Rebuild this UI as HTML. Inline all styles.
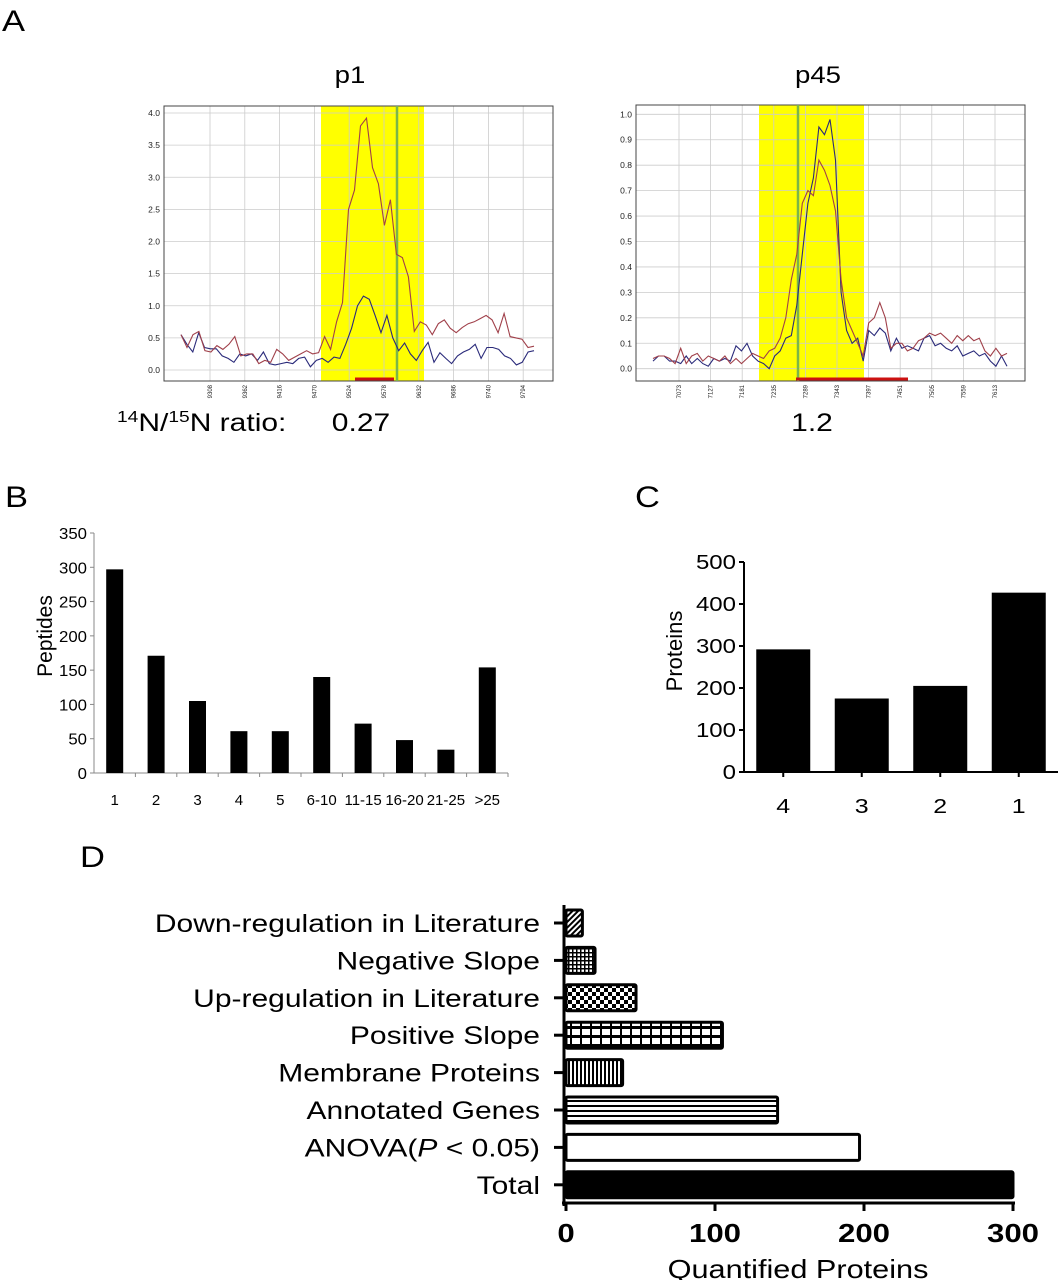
<!DOCTYPE html>
<html><head><meta charset="utf-8"><style>
body{margin:0;background:#fff;width:1064px;height:1280px;overflow:hidden}
svg{display:block;font-family:"Liberation Sans",Arial,sans-serif}
</style></head><body>
<svg id="fig" width="1064" height="1280" xmlns="http://www.w3.org/2000/svg">
<defs>
<pattern id="pDiag" width="4" height="4" patternUnits="userSpaceOnUse" patternTransform="rotate(45)"><rect width="4" height="4" fill="#fff"/><rect width="2" height="4" fill="#000"/></pattern>
<pattern id="pGrid" width="4" height="4" patternUnits="userSpaceOnUse"><rect width="4" height="4" fill="#fff"/><rect width="1.5" height="4" fill="#000"/><rect width="4" height="1.5" fill="#000"/></pattern>
<pattern id="pCheck" width="8" height="8" patternUnits="userSpaceOnUse"><rect width="8" height="8" fill="#fff"/><rect width="4" height="4" fill="#000"/><rect x="4" y="4" width="4" height="4" fill="#000"/></pattern>
<pattern id="pDash" width="10" height="9" patternUnits="userSpaceOnUse"><rect width="10" height="9" fill="#fff"/><rect width="10" height="3" fill="#000"/><rect width="2" height="9" fill="#000"/></pattern>
<pattern id="pVert" width="4" height="4" patternUnits="userSpaceOnUse"><rect width="4" height="4" fill="#fff"/><rect width="2" height="4" fill="#000"/></pattern>
<pattern id="pHoriz" width="4" height="5" patternUnits="userSpaceOnUse"><rect width="4" height="5" fill="#fff"/><rect width="4" height="2" fill="#000"/></pattern>
</defs>
<g id="gA"></g>
<g id="gB"></g>
<g id="gC"></g>
<g id="gD"></g>
</svg>
<script>
// ---- Panel A data ----
const p1Red=[0.55,0.35,0.55,0.6,0.3,0.28,0.38,0.32,0.4,0.52,0.22,0.25,0.25,0.1,0.15,0.12,0.32,0.25,0.15,0.2,0.25,0.3,0.25,0.27,0.52,0.32,0.75,1.05,2.5,2.8,3.8,3.92,3.15,2.9,2.25,2.65,1.8,1.75,1.45,0.6,0.75,0.7,0.55,0.72,0.78,0.65,0.58,0.66,0.72,0.75,0.8,0.85,0.78,0.58,0.88,0.52,0.5,0.48,0.35,0.37];
const p1Blue=[0.55,0.4,0.28,0.58,0.35,0.33,0.33,0.22,0.18,0.12,0.25,0.22,0.25,0.15,0.28,0.1,0.08,0.1,0.12,0.1,0.18,0.2,0.05,0.15,0.18,0.12,0.2,0.18,0.4,0.65,1.0,1.15,1.1,0.85,0.58,0.85,0.5,0.3,0.42,0.25,0.15,0.3,0.43,0.12,0.27,0.18,0.1,0.22,0.28,0.32,0.4,0.18,0.35,0.35,0.32,0.22,0.18,0.08,0.12,0.28,0.3];
const p1YTicks=[0,0.5,1.0,1.5,2.0,2.5,3.0,3.5,4.0];
const p1XTicks=["9308","9362","9416","9470","9524","9578","9632","9686","9740","9794"];
const p45Red=[0.04,0.05,0.05,0.04,0.02,0.08,0.02,0.05,0.06,0.03,0.05,0.04,0.03,0.05,0.02,0.04,0.02,0.04,0.06,0.05,0.04,0.07,0.08,0.12,0.2,0.35,0.45,0.65,0.7,0.68,0.82,0.78,0.72,0.62,0.35,0.2,0.15,0.1,0.05,0.18,0.2,0.26,0.2,0.08,0.1,0.1,0.07,0.08,0.11,0.12,0.14,0.13,0.14,0.12,0.1,0.13,0.11,0.13,0.11,0.12,0.07,0.05,0.08,0.05,0.06];
const p45Blue=[0.03,0.05,0.05,0.03,0.03,0.02,0.05,0.02,0.04,0.02,0.01,0.04,0.03,0.04,0.03,0.09,0.07,0.1,0.05,0.03,0.02,0.0,0.05,0.07,0.12,0.13,0.25,0.45,0.65,0.75,0.95,0.92,0.98,0.82,0.3,0.15,0.1,0.12,0.03,0.15,0.13,0.16,0.14,0.07,0.12,0.08,0.09,0.08,0.07,0.12,0.13,0.09,0.1,0.08,0.07,0.09,0.05,0.06,0.07,0.05,0.06,0.03,0.01,0.05,0.01];
const p45YTicks=[0,0.1,0.2,0.3,0.4,0.5,0.6,0.7,0.8,0.9,1.0];
const p45XTicks=["7073","7127","7181","7235","7289","7343","7397","7451","7505","7559","7613"];
// ---- Panel B data ----
const bCats=["1","2","3","4","5","6-10","11-15","16-20","21-25",">25"];
const bVals=[297,171,105,61,61,140,72,48,34,154];
const bTicks=[0,50,100,150,200,250,300,350];
// ---- Panel C data ----
const cCats=["4","3","2","1"];
const cVals=[292,175,205,427];
const cTicks=[0,100,200,300,400,500];
// ---- Panel D data ----
const dCats=["Down-regulation in Literature","Negative Slope","Up-regulation in Literature","Positive Slope","Membrane Proteins","Annotated Genes","ANOVA(P < 0.05)","Total"];
const dVals=[11,19.5,47,105,38,142,197,300];
const dTicks=[0,100,200,300];
const dFills=["url(#pDiag)","url(#pGrid)","url(#pCheck)","url(#pDash)","url(#pVert)","url(#pHoriz)","#fff","#000"];

const NS="http://www.w3.org/2000/svg";
function mk(parent,tag,attrs,text){const e=document.createElementNS(NS,tag);for(const k in attrs)e.setAttribute(k,attrs[k]);if(text!==undefined)e.textContent=text;parent.appendChild(e);return e;}
function txt(parent,x,y,size,anchor,str,sx,extra){
  const a={x:0,y:0,'font-size':size,'text-anchor':anchor,transform:`translate(${x},${y}) scale(${sx},1)`};
  if(extra)for(const k in extra)a[k]=extra[k];
  return mk(parent,'text',a,str);
}

const gA=document.getElementById('gA'),gB=document.getElementById('gB'),gC=document.getElementById('gC'),gD=document.getElementById('gD');

let t;
t=txt(gA,2,31,30,'start','A',1.15);


t=txt(gB,5,507,30,'start','B',1.15);


t=txt(gC,635,507,30,'start','C',1.15);


t=txt(gD,80,867,30,'start','D',1.15);



function chromChart(o){
  const g=mk(gA,'g',{});
  
  
  const y=v=>o.y0-(v-o.vmin)/(o.vmax-o.vmin)*(o.y0-o.y1);
  const fr=mk(g,'rect',{x:o.L,y:o.T,width:o.R-o.L,height:o.B-o.T,fill:'#fff',stroke:'#444','stroke-width':1});
  
  
  const hl=mk(g,'rect',{x:o.yl1,y:o.T,width:o.yl2-o.yl1,height:o.B-o.T,fill:'#ffff00'});
  
  
  o.yTicks.forEach(v=>{
    const yy=y(v);
    mk(g,'line',{x1:o.L,x2:o.R,y1:yy,y2:yy,stroke:'#ccc','stroke-width':0.8});
    const lb=mk(g,'text',{x:o.L-4,y:yy+3,'font-size':8.5,'text-anchor':'end',fill:'#222'},v.toFixed(1));
    
    
  });
  o.xTicks.forEach((s,i)=>{
    const xx=o.xt0+i*o.xtStep;
    mk(g,'line',{x1:xx,x2:xx,y1:o.T,y2:o.B,stroke:'#ccc','stroke-width':0.8});
    const lb=mk(g,'text',{x:0,y:0,'font-size':6,'text-anchor':'end',fill:'#222',transform:`translate(${xx+2},${o.B+4}) rotate(-90)`},s);
    
    
  });
  mk(g,'rect',{x:o.L,y:o.T,width:o.R-o.L,height:o.B-o.T,fill:'none',stroke:'#444','stroke-width':1});
  const gl=mk(g,'line',{x1:o.green,x2:o.green,y1:o.T,y2:o.B,stroke:'#7ab648','stroke-width':2.5});
  
  
  const rb=mk(g,'line',{x1:o.rb1,x2:o.rb2,y1:o.B-2,y2:o.B-2,stroke:'#cc1111','stroke-width':3});
  
  
  function series(arr,col,nm){
    const pts=arr.map((v,i)=>(o.d0+i*(o.d1-o.d0)/(arr.length-1)).toFixed(1)+','+y(v).toFixed(1)).join(' ');
    const pl=mk(g,'polyline',{points:pts,fill:'none',stroke:col,'stroke-width':1.1});
    
    
  }
  series(o.blue,'#2a2a7a','light-isotope-trace');
  series(o.red,'#a0404a','heavy-isotope-trace');
}
chromChart({name:'p1-chromatogram',L:164,R:553,T:106,B:381,vmin:0,vmax:4,y0:370,y1:113,yl1:321,yl2:424,green:397,rb1:355,rb2:394,xt0:210,xtStep:34.8,d0:181,d1:534,red:p1Red,blue:p1Blue,yTicks:p1YTicks,xTicks:p1XTicks});
chromChart({name:'p45-chromatogram',L:636,R:1025,T:105,B:381,vmin:0,vmax:1,y0:368.7,y1:114.3,yl1:759,yl2:864,green:798,rb1:796,rb2:908,xt0:679,xtStep:31.6,d0:653,d1:1007,red:p45Red,blue:p45Blue,yTicks:p45YTicks,xTicks:p45XTicks});
t=txt(gA,350,83,24,'middle','p1',1.15);


t=txt(gA,818,83,24,'middle','p45',1.15);


const rt=mk(gA,'text',{x:0,y:0,'font-size':25,transform:'translate(117,431) scale(1.2,1)'});


rt.innerHTML='<tspan dy="-9" font-size="16">14</tspan><tspan dy="9">N/</tspan><tspan dy="-9" font-size="16">15</tspan><tspan dy="9">N ratio:</tspan>';
t=txt(gA,361,431,25,'middle','0.27',1.2);


t=txt(gA,812,431,25,'middle','1.2',1.2);



// ---- Panel B ----
(function(){
  const L=94,R=508,y0=773,y1=533,vmax=350;
  const y=v=>y0-v/vmax*(y0-y1);
  const bw=(R-L)/bCats.length;
  mk(gB,'line',{x1:L,x2:L,y1:y1,y2:y0,stroke:'#888','stroke-width':1});
  mk(gB,'line',{x1:L,x2:R,y1:y0,y2:y0,stroke:'#888','stroke-width':1});
  bTicks.forEach(v=>{
    mk(gB,'line',{x1:L-4,x2:L,y1:y(v),y2:y(v),stroke:'#888'});
    const lb=txt(gB,L-7,y(v)+6,16,'end',String(v),1.05);
    
    
  });
  bCats.forEach((c,i)=>{
    const cx=L+bw*(i+0.5);
    mk(gB,'line',{x1:L+bw*(i+1),x2:L+bw*(i+1),y1:y0,y2:y0+4,stroke:'#888'});
    const r=mk(gB,'rect',{x:cx-8.5,y:y(bVals[i]),width:17,height:y0-y(bVals[i]),fill:'#000'});
    
    
    const lb=txt(gB,cx,805,15,'middle',c,1.0);
    
    
  });
  const yt=mk(gB,'text',{x:0,y:0,'font-size':21,'text-anchor':'middle',transform:'translate(52,636) rotate(-90)'},'Peptides');
  
  
})();

// ---- Panel C ----
(function(){
  const L=744,R=1058,y0=772,y1=562,vmax=500;
  const y=v=>y0-v/vmax*(y0-y1);
  const bw=(R-L)/cCats.length;
  mk(gC,'line',{x1:L,x2:L,y1:y1,y2:y0,stroke:'#000','stroke-width':2});
  mk(gC,'line',{x1:L-4,x2:R,y1:y0,y2:y0,stroke:'#000','stroke-width':2});
  cTicks.forEach(v=>{
    mk(gC,'line',{x1:L-5,x2:L,y1:y(v),y2:y(v),stroke:'#000','stroke-width':2});
    const lb=txt(gC,L-8,y(v)+7,20,'end',String(v),1.2);
    
    
  });
  cCats.forEach((c,i)=>{
    const cx=L+bw*(i+0.5);
    mk(gC,'line',{x1:cx,x2:cx,y1:y0,y2:y0+5,stroke:'#000','stroke-width':2});
    const r=mk(gC,'rect',{x:cx-27,y:y(cVals[i]),width:54,height:y0-y(cVals[i]),fill:'#000'});
    
    
    const lb=txt(gC,cx,813,20,'middle',c,1.25);
    
    
  });
  const yt=mk(gC,'text',{x:0,y:0,'font-size':22,'text-anchor':'middle',transform:'translate(682,651) rotate(-90)'},'Proteins');
  
  
})();

// ---- Panel D ----
(function(){
  const x0=566,x1=1013,vmax=300,yTop=905,yBot=1203,c0=923,step=37.4,bh=26;
  const x=v=>x0+v/vmax*(x1-x0);
  mk(gD,'line',{x1:564,x2:564,y1:yTop,y2:yBot+3,stroke:'#000','stroke-width':3});
  mk(gD,'line',{x1:562,x2:x1+2,y1:yBot,y2:yBot,stroke:'#000','stroke-width':3});
  dTicks.forEach(v=>{
    mk(gD,'line',{x1:x(v),x2:x(v),y1:yBot,y2:yBot+8,stroke:'#000','stroke-width':3});
    const lb=txt(gD,x(v),1242,26,'middle',String(v),1.2,{'font-weight':'bold'});
    
    
  });
  dCats.forEach((c,i)=>{
    const cy=c0+i*step;
    mk(gD,'line',{x1:554,x2:564,y1:cy,y2:cy,stroke:'#000','stroke-width':3});
    const r=mk(gD,'rect',{x:x0,y:cy-bh/2,width:x(dVals[i])-x0,height:bh,fill:dFills[i],stroke:'#000','stroke-width':3,rx:1.5});
    
    
    const lb=txt(gD,540,cy+9,25,'end','',1.2);
    
    
    if(c.indexOf('P <')>=0){lb.innerHTML='ANOVA(<tspan font-style="italic">P</tspan> &lt; 0.05)';}else{lb.textContent=c;}
  });
  const xt=txt(gD,798,1278,26,'middle','Quantified Proteins',1.18);
  
  
})();
</script>
</body></html>
